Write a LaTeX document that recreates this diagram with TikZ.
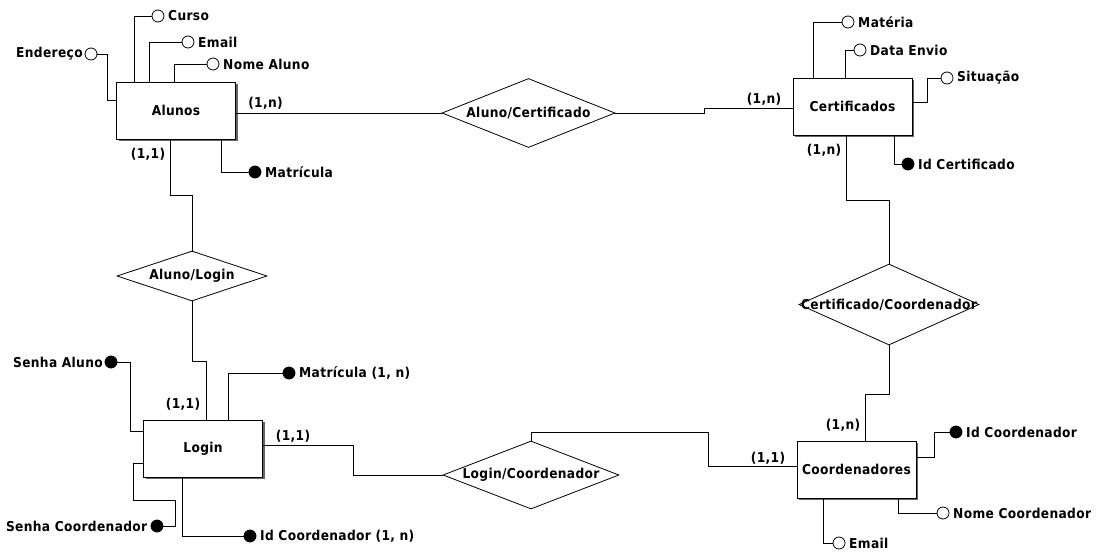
\documentclass[tikz,border=0pt]{standalone}
\usepackage{fontspec}
\setmainfont{DejaVu Sans}[FakeStretch=0.9, LetterSpace=2.5]
\usetikzlibrary{shapes.geometric,shadows}

\tikzset{
	entity/.style={draw, fill=white, line width=1pt, minimum width=119pt, minimum height=57pt,
		drop shadow={shadow xshift=2pt, shadow yshift=-2pt, fill=black!60, opacity=1}},
	rel/.style={diamond, draw, fill=white, line width=0.8pt, inner sep=0pt},
	attr/.style={circle, draw, fill=white, line width=0.8pt, minimum size=12pt, inner sep=0pt, label distance=1pt},
	keyattr/.style={attr, fill=black},
	card/.style={inner sep=0pt},
}
\newcommand{\rtext}[1]{\makebox[0pt]{#1}}

\begin{document}
\begin{tikzpicture}[x=1pt, y=-1pt, line width=1pt, font=\bfseries\fontsize{13.6}{16}\selectfont]

\useasboundingbox (0,0) rectangle (1100,554);

% entidades
\node[entity] (alunos) at (176,110.5) {Alunos};
\node[entity] (cert) at (852.5,106.5) {Certificados};
\node[entity] (login) at (203,448.5) {Login};
\node[entity] (coord) at (856.5,469.5) {Coordenadores};

% relacionamentos
\node[rel, minimum width=173pt, minimum height=69pt] (alcert) at (528.5,113) {\rtext{Aluno/Certificado}};
\node[rel, minimum width=150pt, minimum height=50pt] (allogin) at (192,276) {\rtext{Aluno/Login}};
\node[rel, minimum width=176pt, minimum height=68pt] (logcoord) at (531,475) {\rtext{Login/Coordenador}};
\node[rel, minimum width=180pt, minimum height=81pt] (certcoord) at (889,304.5) {\rtext{Certificado/Coordenador}};

% atributos
\node[attr, label=right:Curso] (curso) at (158,16) {};
\node[attr, label=right:Email] (emailA) at (188,42) {};
\node[attr, label=right:Nome Aluno] (nome) at (213,64) {};
\node[attr, label={[label distance=-2pt]left:Endereço}] (endereco) at (91,54) {};
\node[keyattr, label=right:Matrícula] (matricula) at (255,172) {};

\node[attr, label=right:Matéria] (materia) at (848,22) {};
\node[attr, label=right:Data Envio] (dataenvio) at (860,50) {};
\node[attr, label=right:Situação] (situacao) at (947,78) {};
\node[keyattr, label=right:Id Certificado] (idcert) at (908,164) {};

\node[keyattr, label={[label distance=-2pt]left:Senha Aluno}] (senhaA) at (111,362) {};
\node[keyattr, label=right:{Matrícula (1, n)}] (matlogin) at (289,373) {};
\node[keyattr, label={[label distance=-0.5pt]left:Senha Coordenador}] (senhaC) at (157,526) {};
\node[keyattr, label=right:{Id Coordenador (1, n)}] (idlogin) at (250,536) {};

\node[keyattr, label=right:Id Coordenador] (idcoord) at (956,432) {};
\node[attr, label=right:Nome Coordenador] (nomecoord) at (943,513) {};
\node[attr, label=right:Email] (emailC) at (839,543) {};

% cardinalidades
\node[card] (c1) at (265.5,103) {(1,n)};
\node[card] (c2) at (148,154) {(1,1)};
\node[card] (c3) at (764,99) {(1,n)};
\node[card] (c4) at (824,150) {(1,n)};
\node[card] (c5) at (183,404) {(1,1)};
\node[card] (c6) at (293,436) {(1,1)};
\node[card] (c7) at (768,458) {(1,1)};
\node[card] (c8) at (843,425) {(1,n)};

% ligacoes dos atributos
\draw (curso) -| (alunos.north -| 134,0);
\draw (emailA) -| (alunos.north -| 149,0);
\draw (nome) -| (alunos.north -| 174,0);
\draw (endereco) -| (107,100) -- (alunos.west |- 0,100);
\draw (alunos.south -| 221,0) |- (matricula);

\draw (cert.north -| 813,0) |- (materia);
\draw (cert.north -| 845,0) |- (dataenvio);
\draw (cert.east |- 0,102) -| (927,78) -- (situacao);
\draw (cert.south -| 894,0) |- (idcert);

\draw (login.north -| 228,0) |- (matlogin);
\draw (senhaA) -| (130,431) -- (login.west |- 0,431);
\draw (senhaC) -| (175,500) -| (133,463) -- (login.west |- 0,463);
\draw (login.south -| 182,0) |- (idlogin);

\draw (coord.east |- 0,457) -| (934,432) -- (idcoord);
\draw (coord.south -| 898,0) |- (nomecoord);
\draw (coord.south -| 823,0) |- (emailC);

% ligacoes dos relacionamentos
\draw (alunos.east |- 0,113) -- (alcert.west);
\draw (cert.west |- 0,108) -| (704,113) -- (alcert.east);
\draw (alunos.south -| 170,0) |- (192,195) -- (allogin.north);
\draw (allogin.south) |- (206,361) -- (login.north -| 206,0);
\draw (login.east |- 0,445) -| (353,475) -- (logcoord.west);
\draw (logcoord.north) |- (708,432) |- (coord.west |- 0,466);
\draw (coord.north -| 865,0) |- (889,394) -- (certcoord.south);
\draw (certcoord.north) |- (846,200) -- (cert.south -| 846,0);

\end{tikzpicture}
\end{document}
